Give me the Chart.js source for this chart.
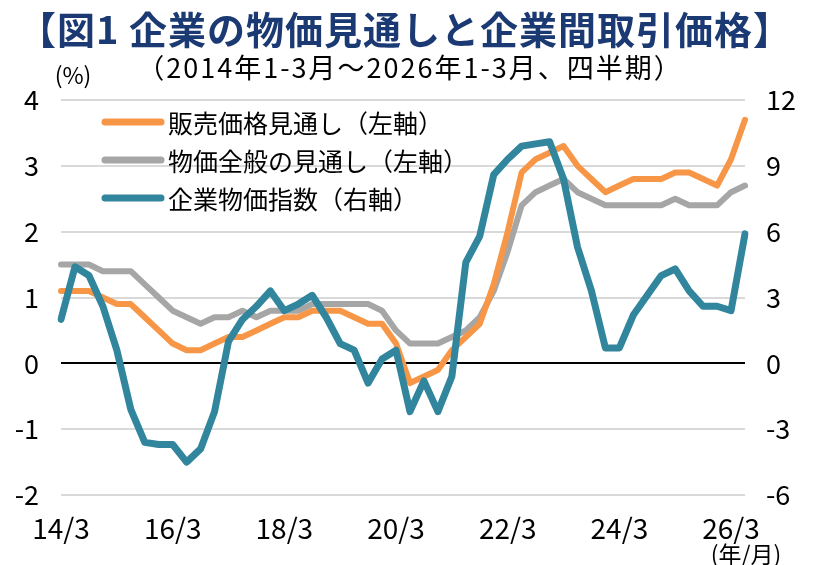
<!DOCTYPE html>
<html>
<head>
<meta charset="utf-8">
<script src="https://cdn.jsdelivr.net/npm/chart.js@4/dist/chart.umd.min.js"></script>
<style>
  html, body { margin: 0; padding: 0; background: #fff; }
  #wrap { width: 816px; height: 565px; position: relative; }
</style>
</head>
<body>
<div id="wrap"><canvas id="c"></canvas></div>
<script>
// 四半期ラベル（14/3 ～ 26/6）
const quarters = [
  '14/3','14/6','14/9','14/12','15/3','15/6','15/9','15/12',
  '16/3','16/6','16/9','16/12','17/3','17/6','17/9','17/12',
  '18/3','18/6','18/9','18/12','19/3','19/6','19/9','19/12',
  '20/3','20/6','20/9','20/12','21/3','21/6','21/9','21/12',
  '22/3','22/6','22/9','22/12','23/3','23/6','23/9','23/12',
  '24/3','24/6','24/9','24/12','25/3','25/6','25/9','25/12',
  '26/3','26/6'
];

// 販売価格見通し（左軸, %）
const salesOutlook = [
  1.1, 1.1, 1.1, 1.0, 0.9, 0.9, 0.7, 0.5, 0.3, 0.2,
  0.2, 0.3, 0.4, 0.4, 0.5, 0.6, 0.7, 0.7, 0.8, 0.8,
  0.8, 0.7, 0.6, 0.6, 0.3, -0.3, -0.2, -0.1, 0.2, 0.4,
  0.6, 1.2, 2.0, 2.9, 3.1, 3.2, 3.3, 3.0, 2.8, 2.6,
  2.7, 2.8, 2.8, 2.8, 2.9, 2.9, 2.8, 2.7, 3.1, 3.7
];

// 物価全般の見通し（左軸, %）
const generalOutlook = [
  1.5, 1.5, 1.5, 1.4, 1.4, 1.4, 1.2, 1.0, 0.8, 0.7,
  0.6, 0.7, 0.7, 0.8, 0.7, 0.8, 0.8, 0.8, 0.9, 0.9,
  0.9, 0.9, 0.9, 0.8, 0.5, 0.3, 0.3, 0.3, 0.4, 0.5,
  0.7, 1.1, 1.7, 2.4, 2.6, 2.7, 2.8, 2.6, 2.5, 2.4,
  2.4, 2.4, 2.4, 2.4, 2.5, 2.4, 2.4, 2.4, 2.6, 2.7
];

// 企業物価指数（右軸, %）
const cgpi = [
  2.0, 4.4, 4.0, 2.6, 0.6, -2.1, -3.6, -3.7, -3.7, -4.5,
  -3.9, -2.2, 1.0, 2.0, 2.6, 3.3, 2.4, 2.7, 3.1, 2.1,
  0.9, 0.6, -0.9, 0.2, 0.6, -2.2, -0.8, -2.2, -0.6, 4.6,
  5.8, 8.6, 9.3, 9.9, 10.0, 10.1, 8.4, 5.3, 3.3, 0.7,
  0.7, 2.2, 3.1, 4.0, 4.3, 3.3, 2.6, 2.6, 2.4, 5.9
];

const leftTicks = [-2, -1, 0, 1, 2, 3, 4];
const rightTicks = [-6, -3, 0, 3, 6, 9, 12];

const FONT = '"Noto Sans CJK JP", "Noto Sans", sans-serif';
const NAVY = '#1b3a73';
const ORANGE = '#f79646';
const GRAY = '#a6a6a6';
const TEAL = '#31859c';

const legendItems = [
  { text: '販売価格見通し（左軸）', color: ORANGE },
  { text: '物価全般の見通し（左軸）', color: GRAY },
  { text: '企業物価指数（右軸）', color: TEAL }
];

// タイトル・注記・凡例を描く
const decorations = {
  id: 'decorations',
  afterDatasetsDraw (chart) {
    const ctx = chart.ctx;
    ctx.save();
    ctx.textBaseline = 'middle';
    ctx.textAlign = 'center';

    ctx.fillStyle = NAVY;
    ctx.font = 'bold 38px ' + FONT;
    ctx.letterSpacing = '1px';
    ctx.fillText('【図1 企業の物価見通しと企業間取引価格】', 405, 30);

    ctx.fillStyle = '#000';
    ctx.font = '27px ' + FONT;
    ctx.letterSpacing = '2px';
    ctx.fillText('（2014年1-3月～2026年1-3月、四半期）', 410, 68);
    ctx.letterSpacing = '0px';

    ctx.font = '23px ' + FONT;
    ctx.fillText('(%)', 73, 75);
    ctx.fillText('(年/月)', 746, 554);

    // 凡例
    ctx.textAlign = 'left';
    ctx.font = '25px ' + FONT;
    ctx.lineCap = 'round';
    ctx.lineWidth = 7;
    legendItems.forEach((item, i) => {
      const y = 122 + i * 38;
      ctx.strokeStyle = item.color;
      ctx.beginPath();
      ctx.moveTo(105, y);
      ctx.lineTo(161, y);
      ctx.stroke();
      ctx.fillStyle = '#000';
      ctx.fillText(item.text, 168, y + 1);
    });
    ctx.restore();
  }
};

const lineStyle = {
  pointRadius: 0,
  pointHoverRadius: 0,
  tension: 0,
  fill: false,
  borderCapStyle: 'round',
  borderJoinStyle: 'round'
};

new Chart(document.getElementById('c'), {
  type: 'line',
  data: {
    labels: quarters,
    datasets: [
      { label: legendItems[0].text, data: salesOutlook, borderColor: ORANGE, borderWidth: 6, yAxisID: 'y', order: 1, ...lineStyle },
      { label: legendItems[1].text, data: generalOutlook, borderColor: GRAY, borderWidth: 6, yAxisID: 'y', order: 2, ...lineStyle },
      { label: legendItems[2].text, data: cgpi, borderColor: TEAL, borderWidth: 7, yAxisID: 'y2', order: 0, ...lineStyle }
    ]
  },
  options: {
    responsive: true,
    maintainAspectRatio: false,
    animation: false,
    events: [],
    layout: { padding: { top: 100, left: 0, right: 0, bottom: 0 } },
    plugins: {
      legend: { display: false },
      title: { display: false },
      tooltip: { enabled: false }
    },
    scales: {
      x: {
        type: 'category',
        offset: false,
        grid: { display: false },
        border: { display: false },
        ticks: {
          autoSkip: false,
          maxRotation: 0,
          minRotation: 0,
          padding: 9,
          color: '#000',
          font: { family: FONT, size: 28 },
          callback: (v, i) => (i % 8 === 0 ? quarters[i] : '')
        },
        afterFit: (s) => { s.height = 70; }
      },
      y: {
        position: 'left',
        min: leftTicks[0],
        max: leftTicks[leftTicks.length - 1],
        afterBuildTicks: (s) => { s.ticks = leftTicks.map(v => ({ value: v })); },
        grid: {
          drawTicks: false,
          lineWidth: 2,
          color: (c) => (c.tick && c.tick.value === 0 ? '#000' : '#d9d9d9')
        },
        border: { display: false },
        ticks: {
          padding: 22,
          color: '#000',
          font: { family: FONT, size: 27 }
        },
        afterFit: (s) => { s.width = 61; }
      },
      y2: {
        position: 'right',
        min: rightTicks[0],
        max: rightTicks[rightTicks.length - 1],
        afterBuildTicks: (s) => { s.ticks = rightTicks.map(v => ({ value: v })); },
        grid: { display: false, drawTicks: false },
        border: { display: false },
        ticks: {
          padding: 21,
          color: '#000',
          font: { family: FONT, size: 27 }
        },
        afterFit: (s) => { s.width = 71; }
      }
    }
  },
  plugins: [decorations]
});
</script>
</body>
</html>
